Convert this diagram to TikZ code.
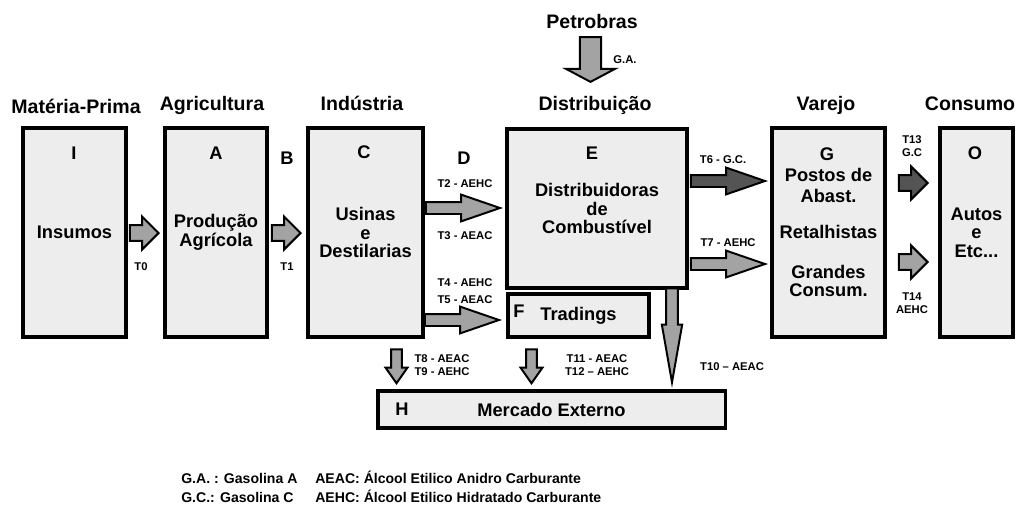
\documentclass[tikz,border=0pt]{standalone}
\usepackage{fontspec}
\setmainfont{Liberation Sans}
\usetikzlibrary{shapes.arrows}

\definecolor{boxgray}{gray}{0.93}
\definecolor{arrgray}{gray}{0.64}
\definecolor{arrdark}{gray}{0.33}

\begin{document}
\begin{tikzpicture}[x=0.025cm,y=-0.025cm,
        blk/.style={single arrow,draw,line width=1.4pt,single arrow head indent=0pt,anchor=tip},
        fat/.style={blk,minimum height=0.72cm,minimum width=0.78cm,inner sep=0.17cm,
                single arrow head extend=0.22cm,single arrow tip angle=90},
        long/.style={blk,minimum height=1.85cm,minimum width=0.62cm,inner sep=0.125cm,
                single arrow head extend=0.185cm,single arrow tip angle=38},
        down/.style={blk,rotate=-90,minimum height=0.85cm,minimum width=0.5cm,inner sep=0.11cm,
                single arrow head extend=0.14cm,single arrow tip angle=70},
        thin/.style={blk,rotate=-90,minimum height=2.35cm,minimum width=0.46cm,inner sep=0.12cm,
                single arrow head extend=0.11cm,single arrow tip angle=20},
        petro/.style={blk,rotate=-90,minimum height=1.12cm,minimum width=1.18cm,inner sep=0.24cm,
                single arrow head extend=0.35cm,single arrow tip angle=124}]
  \tikzstyle{box}=[draw,line width=2.2pt,fill=boxgray,align=center,inner sep=0pt,
        font=\fontsize{13}{13.2}\selectfont\bfseries]
  \tikzstyle{letter}=[font=\fontsize{13}{13.2}\selectfont\bfseries]
  \tikzstyle{stage}=[anchor=base,font=\fontsize{13.9}{16}\selectfont\bfseries]
  \tikzstyle{tlab}=[align=center,inner sep=0pt,font=\fontsize{8}{9.2}\selectfont\bfseries]
  \useasboundingbox (0,0) rectangle (1018,507);

  % etapas
  \node[stage] (mp) at (76,113) {Matéria-Prima};
  \node[stage] (ag) at (212,110) {Agricultura};
  \node[stage] (in) at (362,110) {Indústria};
  \node[stage] (di) at (595,110) {Distribuição};
  \node[stage] (va) at (826,110) {Varejo};
  \node[stage] (co) at (970,110) {Consumo};
  \node[stage] (pb) at (592,28) {Petrobras};

  % caixas
  \node[box,minimum width=2.575cm,minimum height=5.225cm] (I) at (74.5,232.5) {Insumos};
  \node[box,minimum width=2.55cm,minimum height=5.225cm] (A) at (216,232.5) {Produção\\Agrícola};
  \node[box,minimum width=2.875cm,minimum height=5.225cm] (C) at (365.5,232.5) {Usinas\\e\\Destilarias};
  \node[box,minimum width=4.5cm,minimum height=3.975cm] (E) at (597,208.5) {Distribuidoras\\de\\Combustível};
  \node[box,minimum width=3.525cm,minimum height=1.075cm] (F) at (578.5,315.5) {Tradings};
  \node[box,minimum width=2.825cm,minimum height=5.225cm] (G) at (828.5,232.5)
        {Postos de\\[1.8pt]Abast.\\[12.4pt]Retalhistas\\[15.3pt]Grandes\\Consum.};
  \node[box,minimum width=1.825cm,minimum height=5.225cm] (O) at (976.5,232.5) {Autos\\e\\Etc...};
  \node[box,minimum width=8.675cm,minimum height=0.925cm] (H) at (551.5,409.5) {Mercado Externo};

  % letras
  \node[letter] (lI) at (74,153) {I};
  \node[letter] (lA) at (216,153) {A};
  \node[letter] (lB) at (287,158) {B};
  \node[letter] (lC) at (364,152) {C};
  \node[letter] (lD) at (464,158) {D};
  \node[letter] (lE) at (592,153) {E};
  \node[letter] (lF) at (519,311) {F};
  \node[letter] (lG) at (827,154) {G};
  \node[letter] (lO) at (975,153) {O};
  \node[letter] (lH) at (402,409) {H};

  % fluxos
  \node[fat,fill=arrgray] (t0) at (160,233) {};
  \node[fat,fill=arrgray] (t1) at (302,233) {};
  \node[long,fill=arrgray] (t2) at (503,208) {};
  \node[long,fill=arrgray] (t4) at (502,320) {};
  \node[long,fill=arrdark] (t6) at (768,181) {};
  \node[long,fill=arrgray] (t7) at (768,264) {};
  \node[fat,fill=arrdark] (t13) at (929,183) {};
  \node[fat,fill=arrgray] (t14) at (929,262) {};
  \node[down,fill=arrgray] (t8) at (396.5,385) {};
  \node[down,fill=arrgray] (t11) at (531.5,385) {};
  \node[thin,fill=arrgray] (t10) at (672,388) {};
  \node[petro,fill=arrgray] (ga) at (590.5,83) {};

  \node[tlab] (T0) at (141,267) {T0};
  \node[tlab] (T1) at (287,267) {T1};
  \node[tlab] (T2) at (465,184) {T2 - AEHC};
  \node[tlab] (T3) at (465,236) {T3 - AEAC};
  \node[tlab] (T4) at (465,283) {T4 - AEHC};
  \node[tlab] (T5) at (465,300) {T5 - AEAC};
  \node[tlab] (T6) at (723,160) {T6 - G.C.};
  \node[tlab] (T7) at (728,243) {T7 - AEHC};
  \node[tlab] (T13) at (912,146) {T13\\G.C};
  \node[tlab] (T14) at (912,303) {T14\\AEHC};
  \node[tlab] (T8) at (442,365) {T8 - AEAC\\T9 - AEHC};
  \node[tlab] (T11) at (597,365) {T11 - AEAC\\T12 -- AEHC};
  \node[tlab] (T10) at (732,367) {T10 -- AEAC};
  \node[tlab] (GA) at (625,60) {G.A.};

  % legenda
  \node[anchor=base west,inner sep=0pt,font=\fontsize{10}{14}\selectfont\bfseries] (leg) at (181,483)
        {\begin{tabular}[t]{@{}p{3.35cm}@{}l@{}}
          G.A. : Gasolina A & AEAC: Álcool Etilico Anidro Carburante\\
          G.C.: Gasolina C & AEHC: Álcool Etilico Hidratado Carburante
        \end{tabular}};
\end{tikzpicture}
\end{document}
